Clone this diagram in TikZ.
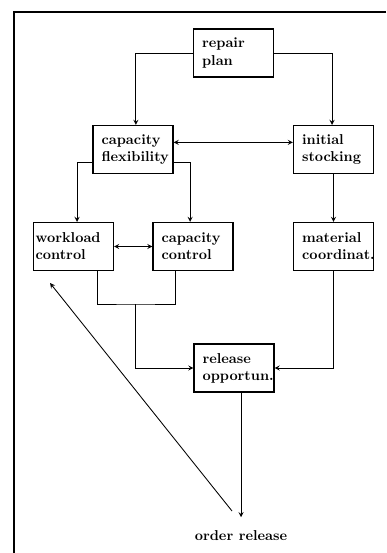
\documentclass[tikz,border=0pt]{standalone}
\begin{document}
\begin{tikzpicture}[x=0.7pt, y=-0.7pt, >=stealth, semithick,
  main/.style = {draw, thick, minimum width=56pt, minimum height=33.6pt, text width=44pt, inner xsep=6pt, align=left, font=\bfseries}]
\useasboundingbox (0,0) rectangle (386,553);
\draw[very thick] (386,12) -- (14,12) -- (14,553);

\node[main] (plan) at (233.5,53) {repair\\plan};
\node[main] (flex) at (133,149.5) {capacity\\flexibility};
\node[main] (stock) at (333.5,149.5) {initial\\stocking};
\node[main, text width=53pt, inner xsep=1.5pt] (work) at (73.5,246.5) {workload\\control};
\node[main] (capctl) at (193,246.5) {capacity\\control};
\node[main] (mat) at (333.5,246.5) {material\\coordinat.};
\node[main] (rel) at (234,368) {release\\opportun.};
\node[font=\bfseries] (order) at (241,536) {order release};
\coordinate (join) at (135,304);
\coordinate (fb) at (232,511);
\coordinate (fbend) at (50,283);

\draw[->] (plan.west) -| ([xshift=2pt]flex.north);
\draw[->] (plan.east) -| ([xshift=-1pt]stock.north);
\draw[<->] ([yshift=5pt]flex.east) -- ([yshift=5pt]stock.west);
\draw[->] ([yshift=-9pt]flex.west) -| ([xshift=2.5pt]work.north);
\draw[->] ([yshift=-9pt]flex.east) -| ([xshift=-2pt]capctl.north);
\draw[<->] (work) -- (capctl);
\draw[->] (stock) -- (mat);
\draw ([xshift=16.5pt]work.south) |- (join) -| ([xshift=-12pt]capctl.south);
\draw[->] (join) |- (rel.west);
\draw[->] (mat.south) |- (rel.east);
\draw[->] (rel.south -| order.north) -- ([yshift=6pt]order.north);
\draw[->] (fb) -- (fbend);

\end{tikzpicture}
\end{document}
